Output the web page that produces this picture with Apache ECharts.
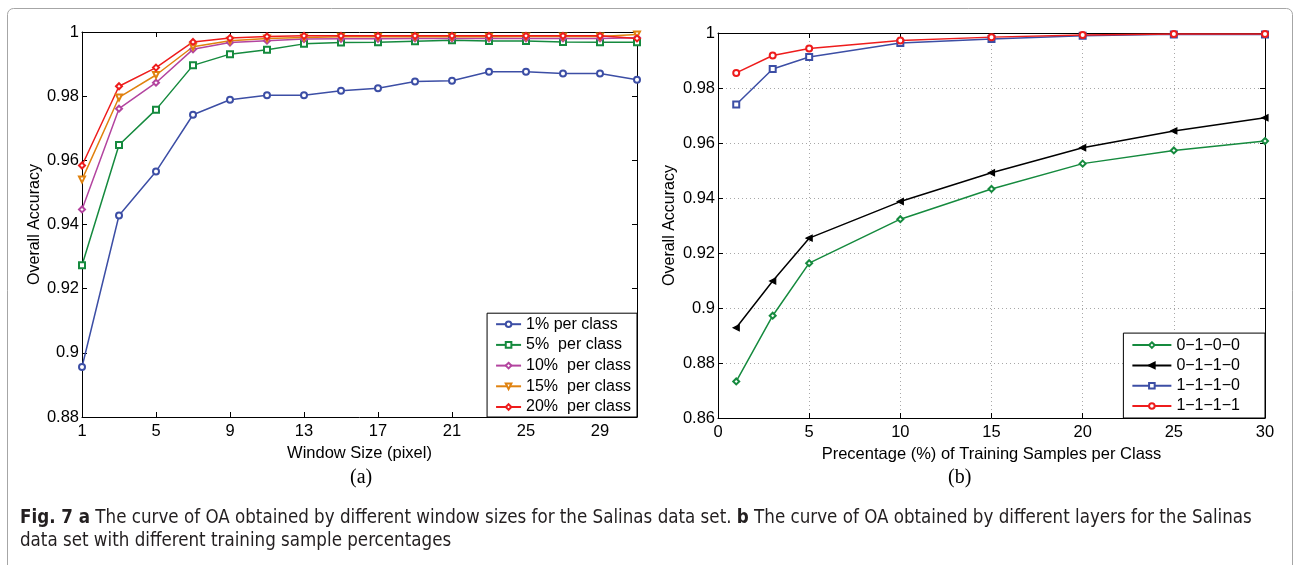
<!DOCTYPE html>
<html>
<head>
<meta charset="utf-8">
<script src="https://cdn.jsdelivr.net/npm/echarts@6/dist/echarts.min.js"></script>
<style>
  html, body { margin: 0; padding: 0; background: #fff; }
  #container { width: 1294px; height: 565px; }
</style>
</head>
<body>
<div id="container"></div>
<script type="text/javascript">
    // (a) window size vs OA
    var winSize = [1, 3, 5, 7, 9, 11, 13, 15, 17, 19, 21, 23, 25, 27, 29, 31];
    var winTicks = [1, 5, 9, 13, 17, 21, 25, 29];
    var oa1 = [0.8956, 0.9428, 0.9565, 0.9742, 0.9789, 0.9803, 0.9803, 0.9817, 0.9825, 0.9846, 0.9848, 0.9876, 0.9876, 0.9871, 0.9871, 0.9851];
    var oa5 = [0.9273, 0.9648, 0.9758, 0.9896, 0.9931, 0.9945, 0.9963, 0.9967, 0.9968, 0.9971, 0.9974, 0.9972, 0.9972, 0.9969, 0.9968, 0.9968];
    var oa10 = [0.9447, 0.9761, 0.9842, 0.9946, 0.9967, 0.9973, 0.9978, 0.9979, 0.9979, 0.9980, 0.9980, 0.9980, 0.9980, 0.9980, 0.9980, 0.9982];
    var oa15 = [0.9540, 0.9796, 0.9866, 0.9954, 0.9973, 0.9980, 0.9983, 0.9985, 0.9985, 0.9985, 0.9985, 0.9985, 0.9986, 0.9986, 0.9986, 0.9992];
    var oa20 = [0.9584, 0.9831, 0.9889, 0.9969, 0.9981, 0.9986, 0.9988, 0.9988, 0.9988, 0.9988, 0.9988, 0.9988, 0.9988, 0.9988, 0.9988, 0.9980];

    // (b) training percentage vs OA
    var pct = [1, 3, 5, 10, 15, 20, 25, 30];
    var l0100 = [0.8733, 0.8972, 0.9163, 0.9323, 0.9433, 0.9525, 0.9573, 0.9607];
    var l0110 = [0.8928, 0.9098, 0.9254, 0.9387, 0.9492, 0.9583, 0.9644, 0.9692];
    var l1110 = [0.9740, 0.9869, 0.9913, 0.9964, 0.9978, 0.9990, 0.9995, 0.9995];
    var l1111 = [0.9855, 0.9918, 0.9944, 0.9973, 0.9985, 0.9993, 0.9996, 0.9996];

    var font = "'Liberation Sans', Arial, sans-serif";
    var capFont = "'Liberation Sans Narrow', 'DejaVu Sans Condensed', sans-serif";
    var pair = function (xs, ys) {
        return xs.map(function (x, i) { return [x, ys[i]]; });
    };

    var myChart = echarts.init(document.getElementById('container'));

    // axis helpers
    var line = { show: true, onZero: false, lineStyle: { color: '#000', width: 1 } };
    var tick = { show: true, inside: true, length: 5, lineStyle: { color: '#000' } };
    var lbl = { color: '#000', fontSize: 16.5, fontFamily: font };
    var yName = { color: '#000', fontSize: 16, fontFamily: font };
    var xName = { color: '#000', fontSize: 16.5, fontFamily: font };
    var dotted = { show: true, lineStyle: { color: '#a8a8a8', type: [1, 3], width: 1 } };

    var mkLine = function (name, data, color, symbol, rotate, xi) {
        return {
            name: name, type: 'line', xAxisIndex: xi, yAxisIndex: xi,
            data: data, symbol: symbol, symbolSize: 6, symbolRotate: rotate || 0,
            lineStyle: { color: color, width: 1.5 },
            itemStyle: { color: color, borderColor: color, borderWidth: 1.2 },
            animation: false
        };
    };

    var option = {
        backgroundColor: '#fff',
        animation: false,
        grid: [
            { left: 82, top: 32, width: 555, height: 385 },
            { left: 718, top: 33, width: 547, height: 385 }
        ],
        xAxis: [
            {
                gridIndex: 0, type: 'value', min: 1, max: 31, position: 'bottom',
                axisLine: line, axisTick: Object.assign({ customValues: winTicks }, tick),
                axisLabel: Object.assign({ customValues: winTicks, margin: 6 }, lbl),
                splitLine: { show: false },
                name: 'Window Size (pixel)', nameLocation: 'middle', nameGap: 20, nameTextStyle: xName
            },
            {
                gridIndex: 1, type: 'value', min: 0, max: 30, interval: 5, position: 'bottom',
                axisLine: line, axisTick: tick,
                axisLabel: Object.assign({ margin: 6 }, lbl),
                splitLine: dotted,
                name: 'Precentage (%) of Training Samples per Class', nameLocation: 'middle', nameGap: 20, nameTextStyle: xName
            },
            {
                gridIndex: 0, type: 'value', min: 1, max: 31, position: 'top',
                axisLine: line, axisTick: Object.assign({ customValues: winTicks }, tick),
                axisLabel: { show: false }, splitLine: { show: false }
            },
            {
                gridIndex: 1, type: 'value', min: 0, max: 30, interval: 5, position: 'top',
                axisLine: line, axisTick: tick,
                axisLabel: { show: false }, splitLine: { show: false }
            }
        ],
        yAxis: [
            {
                gridIndex: 0, type: 'value', min: 0.88, max: 1, interval: 0.02, position: 'left',
                axisLine: line, axisTick: tick,
                axisLabel: Object.assign({ margin: 3 }, lbl),
                splitLine: { show: false },
                name: 'Overall Accuracy', nameLocation: 'middle', nameGap: 37, nameTextStyle: yName
            },
            {
                gridIndex: 1, type: 'value', min: 0.86, max: 1, interval: 0.02, position: 'left',
                axisLine: line, axisTick: tick,
                axisLabel: Object.assign({ margin: 3 }, lbl),
                splitLine: dotted,
                name: 'Overall Accuracy', nameLocation: 'middle', nameGap: 40, nameTextStyle: yName
            },
            {
                gridIndex: 0, type: 'value', min: 0.88, max: 1, interval: 0.02, position: 'right',
                axisLine: line, axisTick: tick,
                axisLabel: { show: false }, splitLine: { show: false }
            },
            {
                gridIndex: 1, type: 'value', min: 0.86, max: 1, interval: 0.02, position: 'right',
                axisLine: line, axisTick: tick,
                axisLabel: { show: false }, splitLine: { show: false }
            }
        ],
        legend: [
            {
                data: ['1% per class', '5%  per class', '10%  per class', '15%  per class', '20%  per class'],
                orient: 'vertical', right: 657, bottom: 148,
                itemWidth: 25, itemHeight: 7, itemGap: 4.7,
                padding: [3, 6, 2, 8],
                borderColor: '#000', borderWidth: 1, borderRadius: 0, backgroundColor: '#fff',
                textStyle: { color: '#000', fontSize: 16, fontFamily: font }
            },
            {
                data: ['0\u22121\u22120\u22120', '0\u22121\u22121\u22120', '1\u22121\u22121\u22120', '1\u22121\u22121\u22121'],
                orient: 'vertical', right: 29, bottom: 147,
                itemWidth: 39, itemHeight: 7, itemGap: 4.3,
                padding: [4, 25, 4, 8],
                borderColor: '#000', borderWidth: 1, borderRadius: 0, backgroundColor: '#fff',
                textStyle: { color: '#000', fontSize: 16, fontFamily: font }
            }
        ],
        series: [
            mkLine('1% per class', pair(winSize, oa1), '#3c4ea5', 'emptyCircle', 0, 0),
            mkLine('5%  per class', pair(winSize, oa5), '#158a3e', 'emptyRect', 0, 0),
            mkLine('10%  per class', pair(winSize, oa10), '#b3449f', 'emptyDiamond', 0, 0),
            mkLine('15%  per class', pair(winSize, oa15), '#e0820f', 'emptyTriangle', 180, 0),
            mkLine('20%  per class', pair(winSize, oa20), '#ee1c1c', 'emptyDiamond', 0, 0),
            mkLine('0\u22121\u22120\u22120', pair(pct, l0100), '#158a3e', 'emptyDiamond', 0, 1),
            mkLine('0\u22121\u22121\u22120', pair(pct, l0110), '#000000', 'triangle', 90, 1),
            mkLine('1\u22121\u22121\u22120', pair(pct, l1110), '#3c4ea5', 'emptyRect', 0, 1),
            mkLine('1\u22121\u22121\u22121', pair(pct, l1111), '#ee1c1c', 'emptyCircle', 0, 1)
        ],
        graphic: [
            {
                type: 'rect', silent: true,
                shape: { x: 7.5, y: 8.5, width: 1285, height: 620, r: 6 },
                style: { fill: 'none', stroke: '#a6a6a6', lineWidth: 1 }
            },
            {
                type: 'text', left: 350, top: 468,
                style: { text: '(a)', fill: '#000', font: "20px 'Liberation Serif', serif" }
            },
            {
                type: 'text', left: 948, top: 468,
                style: { text: '(b)', fill: '#000', font: "20px 'Liberation Serif', serif" }
            },
            {
                type: 'text', left: 20, top: 509,
                style: {
                    text: '{b|Fig. 7 a} The curve of OA obtained by different window sizes for the Salinas data set. {b|b} The curve of OA obtained by different layers for the Salinas',
                    fill: '#231f20', fontSize: 18.6, fontFamily: capFont,
                    rich: { b: { fontWeight: 'bold', fontSize: 18.6, fill: '#231f20', fontFamily: capFont } }
                }
            },
            {
                type: 'text', left: 20, top: 532,
                style: {
                    text: 'data set with different training sample percentages',
                    fill: '#231f20', fontSize: 18.6, fontFamily: capFont
                }
            }
        ]
    };

    myChart.setOption(option);
</script>
</body>
</html>
